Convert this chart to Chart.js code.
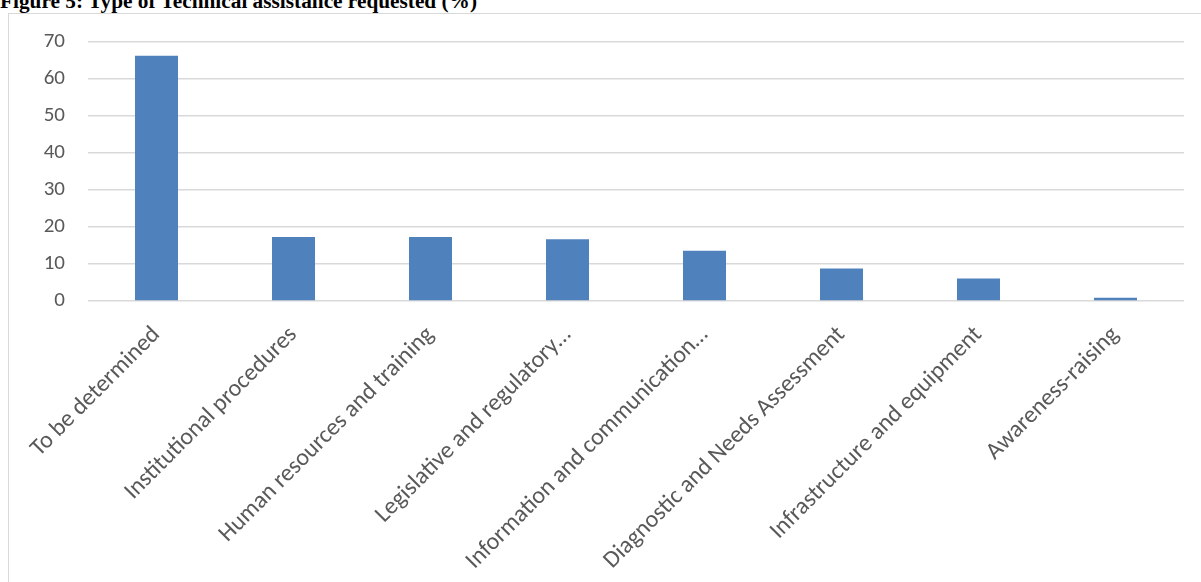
<!DOCTYPE html>
<html>
<head>
<meta charset="utf-8">
<title>Figure 5</title>
<script src="https://cdn.jsdelivr.net/npm/chart.js@4"></script>
<style>
    html, body { margin: 0; padding: 0; width: 1201px; height: 582px; overflow: hidden; background: #fff; }
    #title {
        position: absolute; left: 0; top: -9px;
        font: bold 21.3px "Liberation Serif", "Times New Roman", serif;
        line-height: 21px; white-space: nowrap; color: #000;
    }
    #frame { position: absolute; left: 8px; top: 13px; width: 1300px; height: 700px; border: 1px solid #d9d9d9; }
    #wrap { position: absolute; left: 0; top: 0; width: 1201px; height: 582px; }
</style>
</head>
<body>
<div id="title">Figure 5: Type of Technical assistance requested (%)</div>
<div id="frame"></div>
<div id="wrap"><canvas id="barChart" width="1201" height="582"></canvas></div>
<script>
// values
const categories = [
    'To be determined',
    'Institutional procedures',
    'Human resources and training',
    'Legislative and regulatory…',
    'Information and communication…',
    'Diagnostic and Needs Assessment',
    'Infrastructure and equipment',
    'Awareness-raising'
];
const percentages = [66.3, 17.3, 17.3, 16.7, 13.6, 8.8, 6.1, 0.9];
const yTickValues = [0, 10, 20, 30, 40, 50, 60, 70];

const fontFamily = 'Carlito, Calibri, Lato, sans-serif';
const tickColor = '#595959';

new Chart(document.getElementById('barChart').getContext('2d'), {
    type: 'bar',
    data: {
        labels: categories,
        datasets: [{
            label: 'Type of Technical assistance requested (%)',
            data: percentages,
            backgroundColor: '#4f81bd',
            borderWidth: 0,
            barPercentage: 0.314,
            categoryPercentage: 1
        }]
    },
    options: {
        responsive: false,
        animation: false,
        layout: { padding: { left: 0, top: 42, right: 17, bottom: 0 } },
        plugins: {
            legend: { display: false },
            tooltip: { enabled: false }
        },
        scales: {
            x: {
                grid: { display: false, drawTicks: false },
                border: { display: false },
                ticks: {
                    font: { family: fontFamily, size: 24 },
                    color: tickColor,
                    minRotation: 45,
                    maxRotation: 45,
                    autoSkip: false,
                    padding: 20
                },
                afterFit: scale => { scale.height = 281; }
            },
            y: {
                min: yTickValues[0],
                max: yTickValues[yTickValues.length - 1],
                afterBuildTicks: scale => { scale.ticks = yTickValues.map(v => ({ value: v })); },
                grid: { color: '#d9d9d9', lineWidth: 1.4, drawTicks: false },
                border: { display: false },
                ticks: { font: { family: fontFamily, size: 21 }, color: tickColor, padding: 23 },
                afterFit: scale => { scale.width = 88; }
            }
        }
    }
});
</script>
</body>
</html>
